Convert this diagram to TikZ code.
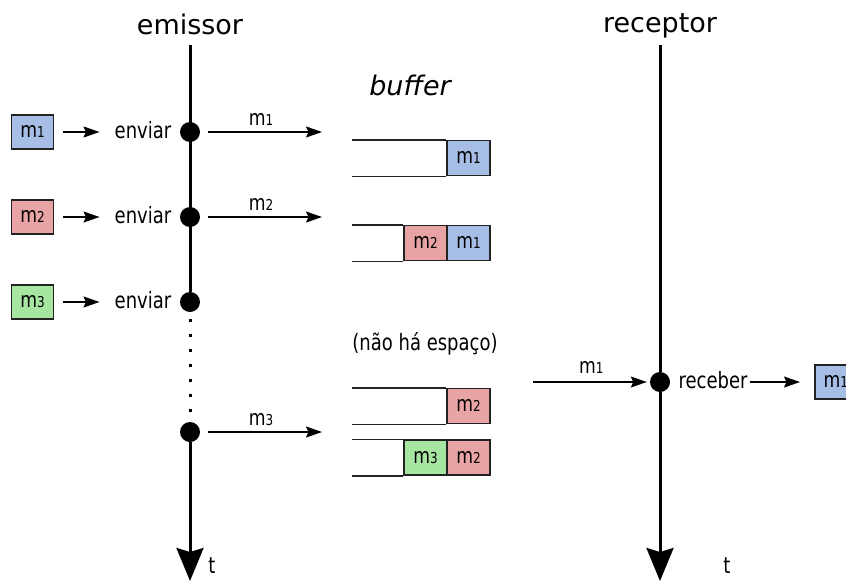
\documentclass[tikz,border=0pt]{standalone}
\usepackage{fontspec}
\setmainfont{DejaVu Sans}
\newfontfamily\estreita{DejaVu Sans}[FakeStretch=0.8]
\usetikzlibrary{arrows.meta}

\definecolor{azul}{RGB}{166,190,230}
\definecolor{vermelho}{RGB}{232,164,164}
\definecolor{verde}{RGB}{166,230,160}
\definecolor{borda}{RGB}{34,34,34}

\newcommand{\msg}[1]{m{\fontsize{15}{18}\selectfont #1}}

\tikzset{
  txt/.style={font=\estreita\fontsize{22.5}{26}\selectfont, inner sep=0pt, text height=12.3pt, text depth=0pt},
  rotulo/.style={txt, font=\estreita\fontsize{21.5}{25}\selectfont, text height=11.8pt},
  titulo/.style={font=\fontsize{27}{31}\selectfont, inner sep=0pt, text height=14.8pt, text depth=0pt},
  ponto/.style={circle, fill, inner sep=0pt, minimum size=20pt},
  caixa/.style={draw=borda, line width=1.5pt, fill=#1, minimum width=42pt, minimum height=34pt, inner sep=0pt, rotulo},
  celula/.style={draw=borda, line width=1.5pt, fill=#1, minimum width=43pt, minimum height=35pt, inner sep=0pt, rotulo},
  seta/.style={-{Stealth[length=16pt,width=11pt,inset=2.5pt]}, line width=1.5pt},
  tempo/.style={-{Stealth[length=33pt,width=27pt,inset=4pt]}, line width=3pt},
}

\begin{document}
\begin{tikzpicture}[x=1pt, y=-1pt]

\useasboundingbox (0,0) rectangle (846,581);

\def \buf {1.5pt}

% emissor
\node[titulo] (emissor) at (190,27) {emissor};
\coordinate (etop) at (190,45);
\coordinate (ebot) at (190,581);

\foreach \i/\y/\cor in {1/132/azul, 2/217/vermelho, 3/302/verde}
{
  \node[caixa=\cor] (b\i) at (32.5,\y) {\msg{\i}};
  \node[txt] (s\i) at (143,\y) {enviar};
  \node[ponto] (e\i) at (190,\y) {};
  \draw[seta, shorten <=9pt, shorten >=15pt] (b\i) -- (s\i);
}
\node[ponto] (e4) at (190,432) {};

\draw[line width=3pt] (etop) -- (e3);
\draw[line width=3pt, dash pattern=on 3pt off 12pt, dash phase=8.5pt] (e3) -- (e4);
\draw[tempo] (e4) -- (ebot);
\node[txt] (te) at (212,567) {t};

% envios
\coordinate (f1) at (322,132);
\coordinate (f2) at (322,217);
\coordinate (f3) at (322,432);
\draw[seta, shorten <=8pt] (e1) -- node[above=6pt, rotulo] {\msg{1}} (f1);
\draw[seta, shorten <=8pt] (e2) -- node[above=6pt, rotulo] {\msg{2}} (f2);
\draw[seta, shorten <=8pt] (e4) -- node[above=6pt, rotulo] {\msg{3}} (f3);

% buffer
\node[titulo, font=\fontsize{27}{31}\selectfont\itshape] (buffer) at (410,88) {buffer};

\node[celula=azul] (c11) at (468.5,158) {\msg{1}};
\draw[borda, line width=\buf] (c11.north west) -- ++(-94,0);
\draw[borda, line width=\buf] (c11.south west) -- ++(-94,0);

\node[celula=azul] (c21) at (468.5,243) {\msg{1}};
\node[celula=vermelho] (c22) at (425.5,243) {\msg{2}};
\draw[borda, line width=\buf] (c22.north west) -- ++(-51,0);
\draw[borda, line width=\buf] (c22.south west) -- ++(-51,0);

\node[txt] (espaco) at (425,344) {(não há espaço)};

\node[celula=vermelho] (c31) at (468.5,406) {\msg{2}};
\draw[borda, line width=\buf] (c31.north west) -- ++(-94,0);
\draw[borda, line width=\buf] (c31.south west) -- ++(-94,0);

\node[celula=vermelho] (c41) at (468.5,457.5) {\msg{2}};
\node[celula=verde] (c42) at (425.5,457.5) {\msg{3}};
\draw[borda, line width=\buf] (c42.north west) -- ++(-51,0);
\draw[borda, line width=\buf] (c42.south west) -- ++(-51,0);

% receptor
\node[titulo] (receptor) at (660,25) {receptor};
\coordinate (rtop) at (660,45);
\coordinate (rbot) at (660,581);
\node[ponto] (r1) at (660,382) {};
\draw[line width=3pt] (rtop) -- (r1);
\draw[tempo] (r1) -- (rbot);
\node[txt] (tr) at (727,567) {t};

\coordinate (g1) at (533,382);
\draw[seta, shorten >=3pt] (g1) -- node[above=8pt, rotulo] {\msg{1}} (r1);
\node[txt] (rec) at (713,382) {receber};
\node[caixa=azul, anchor=west] (b4) at (814,382) {\msg{1}};
\draw[seta, shorten <=2pt, shorten >=14pt] (rec) -- (b4);

\end{tikzpicture}
\end{document}
